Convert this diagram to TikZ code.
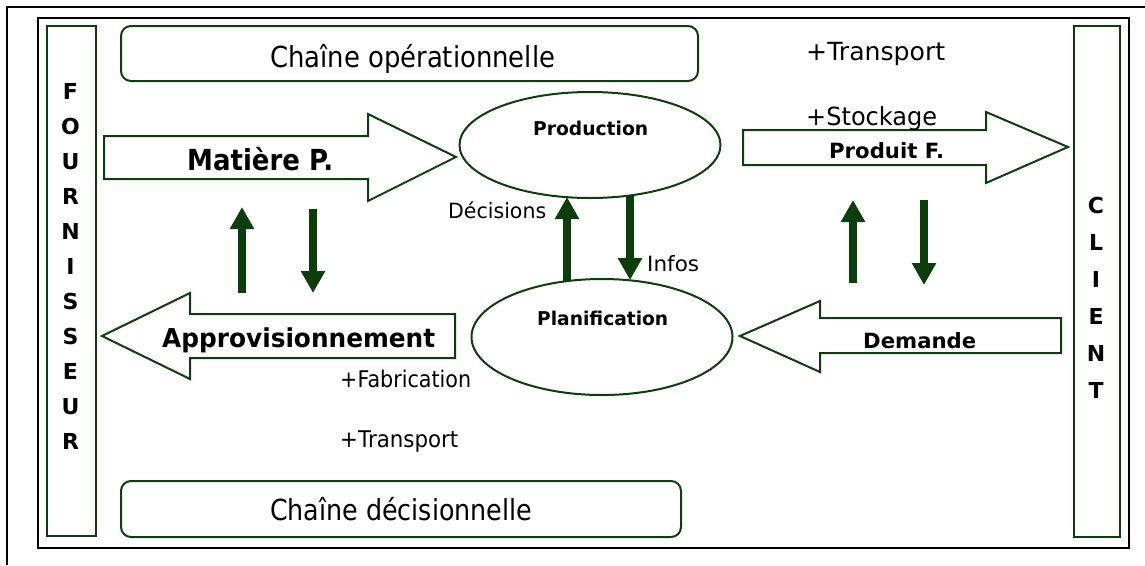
\documentclass[tikz,border=0pt]{standalone}
\usepackage{fontspec}
\setmainfont{DejaVu Sans}
\usepackage{graphicx}
\usetikzlibrary{shapes.geometric,arrows.meta}
\definecolor{dg}{RGB}{12,62,12}
\newlength\fitlen
\newcommand\fitw[2]{\settowidth\fitlen{#2}\pgfmathsetmacro\fitx{#1/\fitlen}\scalebox{\fitx}[1]{#2}}
\begin{document}
\begin{tikzpicture}[x=1pt,y=-1pt,
  frame/.style={draw=dg,line width=2pt,inner sep=0pt},
  blockarrow/.style={draw=dg,line width=2pt,fill=white,line join=miter},
  txt/.style={inner sep=0pt,anchor=base west,font=\fontsize{#1}{#1}\selectfont},
  txtb/.style={inner sep=0pt,anchor=base west,font=\fontsize{#1}{#1}\selectfont\bfseries},
  letter/.style={inner sep=0pt,anchor=base,font=\fontsize{22}{22}\selectfont\bfseries},
  flow/.style={draw=dg,line width=8pt,-{Triangle[width=23pt,length=22pt]}}]
\useasboundingbox (0,0) rectangle (1145,565);
% frames
\draw[line width=2pt] (7,565) -- (7,7) -- (1145,7);
\draw[line width=1.5pt] (38,18) rectangle (1129,548);
% side boxes
\node[frame,rectangle,minimum width=49pt,minimum height=510pt,anchor=north west] (four) at (46,25) {};
\node[frame,rectangle,minimum width=46pt,minimum height=511pt,anchor=north west] (client) at (1073,25) {};
\foreach \l [count=\i from 0] in {F,O,U,R,N,I,S,S,E,U,R}
  \node[letter] (f\i) at (70.5,{99+35*\i}) {\l};
\foreach \l [count=\i from 0] in {C,L,I,E,N,T}
  \node[letter] (c\i) at (1096,{213+37*\i}) {\l};
% chain boxes
\node[frame,rectangle,rounded corners=10pt,minimum width=577pt,minimum height=55pt,anchor=north west] (cop) at (120,25) {};
\node[frame,rectangle,rounded corners=10pt,minimum width=560pt,minimum height=56pt,anchor=north west] (cde) at (120,480) {};
\node[txt=29] (coptxt) at (270,67.7) {\fitw{285}{Chaîne opérationnelle}};
\node[txt=29] (cdetxt) at (270,520) {\fitw{262}{Chaîne décisionnelle}};
% ellipses
\node[frame,ellipse,minimum width=261pt,minimum height=106pt] (prod) at (590,145) {};
\node[frame,ellipse,minimum width=261pt,minimum height=116pt] (plan) at (602,337) {};
\node[txtb=19] (prodtxt) at (533,135) {\fitw{115}{Production}};
\node[txtb=19] (plantxt) at (537,325) {\fitw{131}{Planification}};
% block arrows
\draw[blockarrow] (104,136) -- (368,136) -- (368,114) -- (456,157) -- (368,201) -- (368,179) -- (104,179) -- cycle;
\draw[blockarrow] (743,130) -- (986,130) -- (986,112) -- (1068,147) -- (986,183) -- (986,165) -- (743,165) -- cycle;
\draw[blockarrow] (455,314) -- (190,314) -- (190,293) -- (102,336) -- (190,379) -- (190,358) -- (455,358) -- cycle;
\draw[blockarrow] (1061,318) -- (820,318) -- (820,301) -- (740,336) -- (820,372) -- (820,353) -- (1061,353) -- cycle;
\node[txtb=29] (matp) at (187,170) {\fitw{146}{Matière P.}};
\node[txtb=21] (prodf) at (829,158) {\fitw{115}{Produit F.}};
\node[txtb=26] (appro) at (162,347) {\fitw{273}{Approvisionnement}};
\node[txtb=21] (dem) at (863,348) {\fitw{113}{Demande}};
% plain labels
\node[txt=25] (trans1) at (806,60) {\fitw{139}{+Transport}};
\node[txt=25] (stock) at (806,125) {\fitw{131}{+Stockage}};
\node[txt=21] (decis) at (448,218) {\fitw{98}{Décisions}};
\node[txt=21] (infos) at (647,271) {\fitw{52}{Infos}};
\node[txt=23] (fab) at (340,387) {\fitw{131}{+Fabrication}};
\node[txt=23] (trans2) at (340,447) {\fitw{118}{+Transport}};
% flow arrows
\coordinate (l1s) at (242,293); \coordinate (l1e) at (242,207);
\coordinate (l2s) at (313,209); \coordinate (l2e) at (313,293);
\coordinate (m1s) at (567,281); \coordinate (m1e) at (567,197);
\coordinate (m2s) at (630,195); \coordinate (m2e) at (630,280);
\coordinate (r1s) at (853,283); \coordinate (r1e) at (853,200);
\coordinate (r2s) at (924,200); \coordinate (r2e) at (924,285);
\draw[flow] (l1s) -- (l1e);
\draw[flow] (l2s) -- (l2e);
\draw[flow] (m1s) -- (m1e);
\draw[flow] (m2s) -- (m2e);
\draw[flow] (r1s) -- (r1e);
\draw[flow] (r2s) -- (r2e);
\end{tikzpicture}
\end{document}
